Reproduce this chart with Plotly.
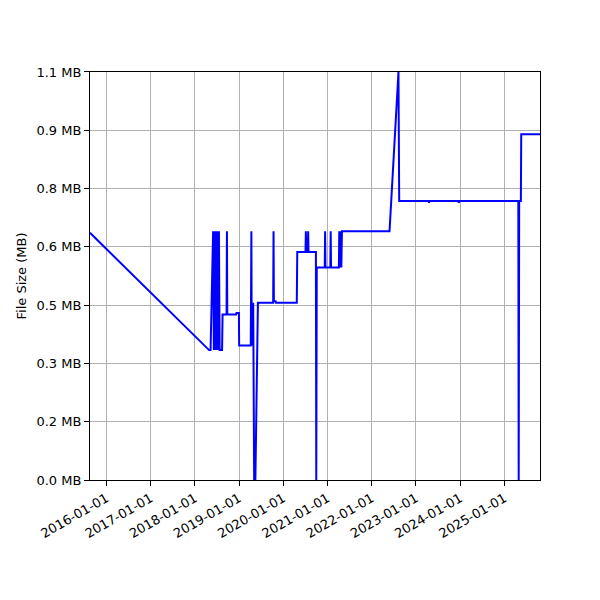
import plotly.graph_objects as go

# commit history of the file size
dates = [
    "2015-08-19", "2018-04-29", "2018-05-11",
    "2018-06-01", "2018-06-07", "2018-06-13", "2018-06-20", "2018-06-25",
    "2018-07-02", "2018-07-08", "2018-07-15", "2018-07-19", "2018-07-25",
    "2018-08-14", "2018-08-18",
    "2018-09-20", "2018-09-23", "2018-09-26",
    "2018-12-08", "2018-12-11", "2018-12-31", "2019-01-02",
    "2019-04-08", "2019-04-13", "2019-04-16", "2019-04-22", "2019-04-28",
    "2019-05-06", "2019-05-16", "2019-06-06",
    "2019-10-10", "2019-10-13", "2019-10-16", "2019-10-30", "2019-11-02",
    "2020-04-22", "2020-04-26",
    "2020-07-03", "2020-07-06", "2020-07-09",
    "2020-07-22", "2020-07-25", "2020-07-28",
    "2020-09-27", "2020-09-30", "2020-10-04",
    "2020-12-09", "2020-12-12", "2020-12-15",
    "2021-01-24", "2021-01-27", "2021-01-30",
    "2021-04-05", "2021-04-08", "2021-04-14", "2021-04-20", "2021-04-25", "2021-04-30",
    "2022-05-28", "2022-08-10", "2022-08-16",
    "2023-04-15", "2023-04-19", "2023-04-23",
    "2023-12-17", "2023-12-21", "2023-12-25",
    "2025-04-26", "2025-04-29", "2025-05-03", "2025-05-17", "2025-05-20",
    "2025-10-22",
]
size_mb = [
    0.647, 0.340, 0.340,
    0.651, 0.340, 0.651, 0.340, 0.651,
    0.340, 0.651, 0.340, 0.651, 0.340,
    0.340, 0.433,
    0.433, 0.651, 0.433,
    0.433, 0.437, 0.437, 0.352,
    0.352, 0.651, 0.352, 0.464, 0.464,
    0.0, 0.0, 0.464,
    0.464, 0.651, 0.468, 0.468, 0.464,
    0.464, 0.597,
    0.597, 0.651, 0.597,
    0.597, 0.651, 0.597,
    0.597, 0.0, 0.556,
    0.556, 0.651, 0.556,
    0.556, 0.651, 0.556,
    0.556, 0.651, 0.556, 0.651, 0.556, 0.651,
    0.651, 1.068, 0.730,
    0.730, 0.726, 0.730,
    0.730, 0.726, 0.730,
    0.730, 0.0, 0.730, 0.730, 0.905,
    0.905,
]

year_ticks = ["2016-01-01", "2017-01-01", "2018-01-01", "2019-01-01", "2020-01-01",
              "2021-01-01", "2022-01-01", "2023-01-01", "2024-01-01", "2025-01-01"]
y_tickvals = [0.0, 0.1526, 0.3052, 0.4578, 0.6104, 0.7629, 0.9155, 1.0681]
y_ticktext = ["0.0 MB", "0.2 MB", "0.3 MB", "0.5 MB", "0.6 MB", "0.8 MB", "0.9 MB", "1.1 MB"]

fig = go.Figure(go.Scatter(
    x=dates, y=size_mb, mode="lines",
    line=dict(color="blue", width=2),
))

axis_style = dict(
    showline=True, linecolor="black", linewidth=1, mirror=True,
    ticks="outside", ticklen=5, tickcolor="black", tickwidth=1,
    showgrid=True, gridcolor="#b0b0b0", gridwidth=1, zeroline=False,
)

# the page body adds an 8px offset, so the margins are shifted to compensate
fig.update_layout(
    width=600, height=600, autosize=False,
    margin=dict(l=82, r=68, t=64, b=128),
    paper_bgcolor="white", plot_bgcolor="white",
    font=dict(family="DejaVu Sans", size=13, color="black"),
    showlegend=False,
    xaxis=dict(
        type="date", range=[dates[0], dates[-1]],
        tickvals=year_ticks, ticktext=year_ticks, tickangle=-30,
        **axis_style,
    ),
    yaxis=dict(
        range=[0, 1.068],
        tickvals=y_tickvals, ticktext=y_ticktext,
        title=dict(text="File Size (MB)", font=dict(size=13), standoff=6),
        **axis_style,
    ),
)

fig.write_html("out.html")
